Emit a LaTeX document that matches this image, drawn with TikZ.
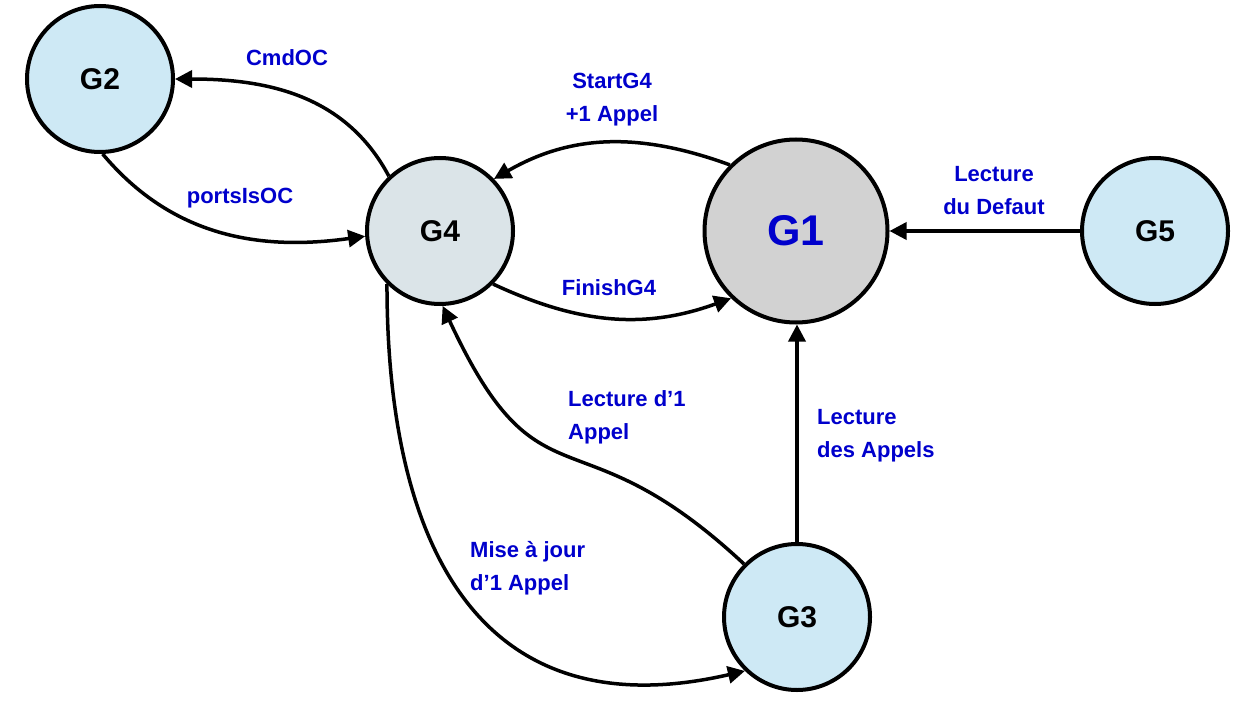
\documentclass[tikz,border=0pt]{standalone}
\usepackage{fontspec}
\setmainfont{Liberation Sans}
\usetikzlibrary{arrows.meta}

\definecolor{bleuclair}{RGB}{206,233,245}
\definecolor{grisbleu}{RGB}{219,228,232}
\definecolor{grisG1}{RGB}{210,210,210}
\definecolor{bleutxt}{RGB}{0,0,204}

\begin{document}
\begin{tikzpicture}[x=1pt,y=1pt,
    etat/.style = {circle, draw, line width=4pt, minimum size=146pt, inner sep=0pt,
                   fill=bleuclair, font=\fontsize{30}{36}\selectfont\bfseries},
    lbl/.style  = {text=bleutxt, font=\fontsize{22}{33}\selectfont\bfseries, inner sep=0pt},
    fl/.style   = {-{Triangle[length=17pt,width=17pt]}, line width=3.5pt}]
    \useasboundingbox (0,0) rectangle (1244,-714);

    \node[etat] (G2) at (100,-79) {G2};
    \node[etat, fill=grisbleu] (G4) at (440,-231) {G4};
    \node[etat, fill=grisG1, minimum size=183pt, text=bleutxt,
          font=\fontsize{43}{50}\selectfont\bfseries] (G1) at (796,-231) {G1};
    \node[etat] (G5) at (1155,-231) {G5};
    \node[etat] (G3) at (797,-617) {G3};

    \draw[fl] (G4.133) to[out=118,in=0] (G2.east);
    \draw[fl] (G2.-88) to[out=-50,in=188] (G4.184);
    \draw[fl] (G1.135) to[out=160,in=30] (G4.44);
    \draw[fl] (G4.-45) to[out=-25,in=200] (G1.226);
    \draw[fl] (G5) -- (G1);
    \draw[fl] (G3.north) -- (G3.north |- G1.south);
    \draw[fl] (G3.135) to[out=137,in=-65,looseness=1.5] (G4.-88);
    \draw[fl] (G4.225) to[out=-90,in=193,looseness=1.3] (G3.226);

    \node[lbl] (lCmd) at (287,-58) {CmdOC};
    \node[lbl] (lPorts) at (240,-198) {portsIsOC};
    \node[lbl, align=center] (lStart) at (612,-100) {StartG4\\+1 Appel};
    \node[lbl] (lFinish) at (609,-288) {FinishG4};
    \node[lbl, align=center] (lDefaut) at (994,-191) {Lecture\\du Defaut};
    \node[lbl, align=left, anchor=west] (lAppels) at (817,-436) {Lecture\\des Appels};
    \node[lbl, align=left, anchor=west] (lLect) at (568,-417) {Lecture d’1\\Appel};
    \node[lbl, align=left, anchor=west] (lMaj) at (470,-568) {Mise à jour\\d’1 Appel};
\end{tikzpicture}
\end{document}
